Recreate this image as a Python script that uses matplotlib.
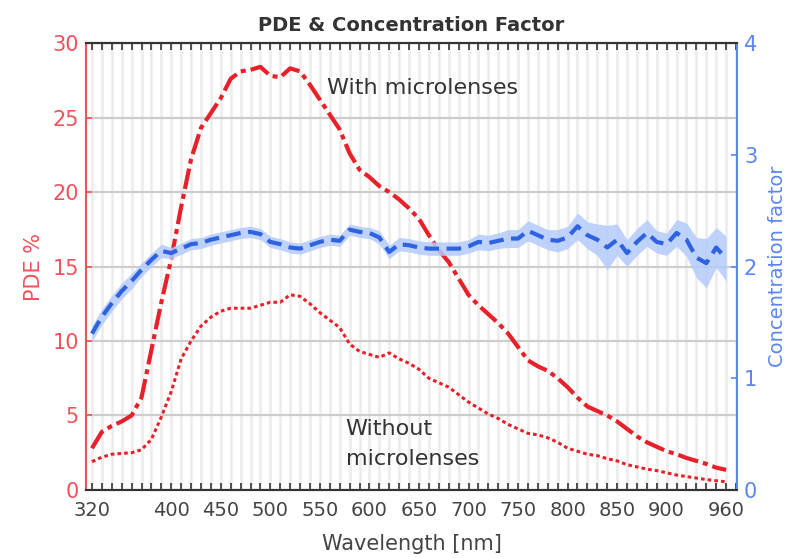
import numpy as np
import matplotlib
matplotlib.use("Agg")
import matplotlib.pyplot as plt
from matplotlib.ticker import MultipleLocator, FixedLocator

plt.rcParams['font.family'] = ['DejaVu Sans']

# Wavelength grid [nm]
wavelength = list(range(320, 961, 10))

# PDE [%] with microlenses
pde_with = [2.8, 3.9, 4.3, 4.6, 5.0, 6.2, 9.4, 12.6, 15.5, 19.0,
            22.2, 24.3, 25.3, 26.3, 27.6, 28.1, 28.2, 28.4, 27.8, 27.7,
            28.3, 28.1, 27.2, 26.2, 25.2, 24.2, 22.6, 21.5, 21.0, 20.4,
            20.0, 19.5, 18.9, 18.2, 17.1, 16.1, 15.3, 14.2, 13.1, 12.4,
            11.8, 11.2, 10.5, 9.6, 8.7, 8.3, 8.0, 7.5, 6.9, 6.2,
            5.6, 5.3, 5.0, 4.6, 4.1, 3.6, 3.2, 2.9, 2.6, 2.4,
            2.15, 1.95, 1.75, 1.5, 1.35]

# PDE [%] without microlenses
pde_without = [1.9, 2.2, 2.4, 2.45, 2.5, 2.7, 3.4, 4.9, 6.6, 8.8,
               10.0, 11.0, 11.6, 12.0, 12.2, 12.2, 12.2, 12.4, 12.6, 12.6,
               13.1, 13.0, 12.5, 11.9, 11.4, 10.9, 9.8, 9.3, 9.1, 8.9,
               9.2, 8.8, 8.5, 8.1, 7.5, 7.2, 6.9, 6.4, 5.9, 5.5,
               5.1, 4.8, 4.4, 4.1, 3.8, 3.7, 3.5, 3.2, 2.8, 2.6,
               2.4, 2.3, 2.1, 1.95, 1.7, 1.55, 1.4, 1.3, 1.15, 1.0,
               0.9, 0.8, 0.7, 0.62, 0.55]

# Concentration factor and its uncertainty band
conc_factor = [1.40, 1.55, 1.67, 1.78, 1.87, 1.97, 2.06, 2.14, 2.12, 2.16,
               2.20, 2.21, 2.24, 2.26, 2.28, 2.30, 2.31, 2.29, 2.22, 2.20,
               2.17, 2.16, 2.19, 2.22, 2.24, 2.23, 2.33, 2.31, 2.30, 2.26,
               2.13, 2.20, 2.19, 2.17, 2.16, 2.16, 2.16, 2.16, 2.18, 2.22,
               2.21, 2.23, 2.25, 2.25, 2.32, 2.28, 2.24, 2.23, 2.26, 2.36,
               2.28, 2.24, 2.17, 2.24, 2.12, 2.22, 2.30, 2.22, 2.20, 2.30,
               2.24, 2.08, 2.03, 2.17, 2.07]
conc_err = [0.07, 0.07, 0.07, 0.07, 0.07, 0.06, 0.06, 0.06, 0.05, 0.05,
            0.05, 0.05, 0.05, 0.05, 0.05, 0.05, 0.05, 0.05, 0.05, 0.05,
            0.05, 0.05, 0.05, 0.05, 0.05, 0.05, 0.05, 0.05, 0.05, 0.06,
            0.06, 0.06, 0.06, 0.06, 0.06, 0.06, 0.06, 0.06, 0.06, 0.07,
            0.07, 0.07, 0.08, 0.08, 0.09, 0.09, 0.09, 0.10, 0.10, 0.12,
            0.12, 0.14, 0.20, 0.14, 0.12, 0.12, 0.12, 0.10, 0.10, 0.12,
            0.15, 0.18, 0.22, 0.18, 0.20]

x_ticks = [320, 400, 450, 500, 550, 600, 650, 700, 750, 800, 850, 900, 960]
pde_ticks = [0, 5, 10, 15, 20, 25, 30]
cf_ticks = [0, 1, 2, 3, 4]

RED = '#e8202a'
RED_LABEL = '#f0525c'
BLUE = '#2f62e0'
BLUE_LABEL = '#5b86f0'
BAND = '#b3cbfc'
DARK = '#333333'

fig = plt.figure(figsize=(7.92, 5.58), dpi=100)
ax = fig.add_axes([0.1086, 0.1219, 0.822, 0.801])
ax2 = ax.twinx()

ax.set_xlim(314, 971)
ax.set_ylim(0, 30)
ax2.set_ylim(0, 4)

# grid: fine vertical lines every 10 nm, horizontal at each major PDE tick
ax.xaxis.set_minor_locator(MultipleLocator(10))
ax.xaxis.set_major_locator(FixedLocator(x_ticks))
ax.set_yticks(pde_ticks)
ax.grid(which='both', axis='x', color='#ececec', linewidth=1.8)
ax.grid(which='major', axis='y', color='#cdcdcd', linewidth=1.6)
ax.set_axisbelow(True)

ax.plot(wavelength, pde_with, color=RED, linewidth=3.0,
        linestyle=(0, (5, 1.2, 1.2, 1.2)), zorder=3)
ax.plot(wavelength, pde_without, color=RED, linewidth=2.2,
        linestyle=(0, (1.2, 1.0)), zorder=3)

lo = [c - e for c, e in zip(conc_factor, conc_err)]
hi = [c + e for c, e in zip(conc_factor, conc_err)]
ax2.fill_between(wavelength, lo, hi, color=BAND, linewidth=0, alpha=0.85, zorder=2)
ax2.plot(wavelength, conc_factor, color=BLUE, linewidth=3.0,
         linestyle=(0, (3.5, 1.8)), zorder=3)
ax2.set_yticks(cf_ticks)

# spines
for a in (ax, ax2):
    a.spines['top'].set_color(DARK)
    a.spines['bottom'].set_color(DARK)
ax.spines['left'].set_color(RED_LABEL)
ax.spines['right'].set_visible(False)
ax2.spines['left'].set_visible(False)
ax2.spines['right'].set_color(BLUE_LABEL)
for a in (ax, ax2):
    for s in a.spines.values():
        s.set_linewidth(1.5)

ax.tick_params(axis='x', which='both', direction='in', top=True, bottom=True,
               color=DARK, length=5, width=1.2, labelsize=14,
               labelcolor='#444444', pad=8)
ax.tick_params(axis='y', direction='in', colors=RED_LABEL, labelsize=15,
               length=4, width=1.2, pad=5)
ax2.tick_params(axis='y', direction='in', colors=BLUE_LABEL, labelsize=15,
                length=4, width=1.2, pad=5)

ax.set_xlabel('Wavelength [nm]', fontsize=15, color='#444444', labelpad=10)
ax.set_ylabel('PDE %', fontsize=15, color=RED_LABEL, labelpad=6)
ax2.set_ylabel('Concentration factor', fontsize=14, color=BLUE_LABEL, labelpad=8)
ax.set_title('PDE & Concentration Factor', fontsize=14, fontweight='bold',
             color='#333333', pad=9)

ax.text(557, 27.0, 'With microlenses', fontsize=16, color='#333333',
        ha='left', va='center', zorder=4)
ax.text(576, 3.1, 'Without\nmicrolenses', fontsize=16, color='#333333',
        ha='left', va='center', linespacing=1.6, zorder=4)

fig.savefig('out.png', dpi=100)
